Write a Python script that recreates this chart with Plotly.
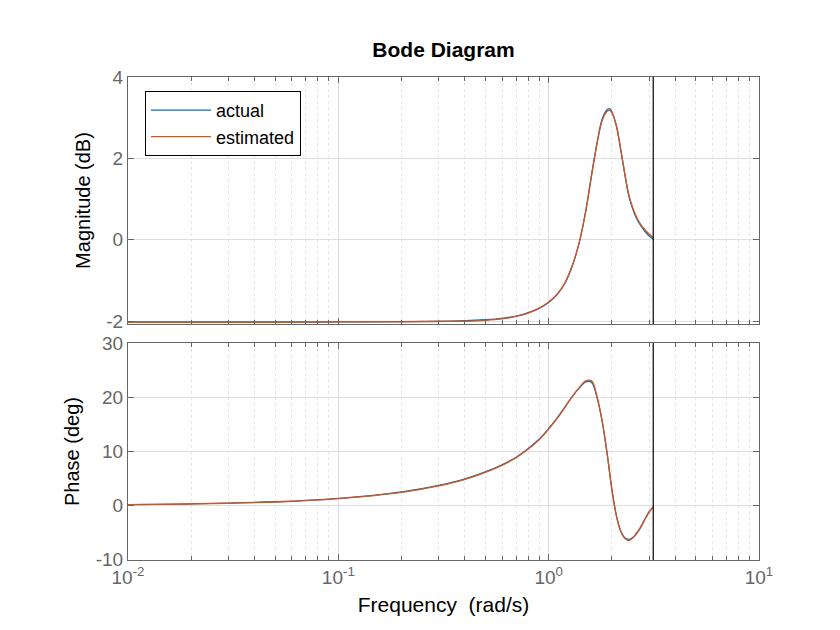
import numpy as np
import plotly.graph_objects as go
from plotly.subplots import make_subplots

# ---- data ----
freq = [0.01, 0.02, 0.05, 0.1, 0.2, 0.3, 0.4, 0.5, 0.6, 0.7, 0.8, 0.9, 1.0,
        1.1, 1.2, 1.3, 1.4, 1.5, 1.6, 1.7, 1.8, 1.9, 1.95, 2.0, 2.1, 2.2, 2.3,
        2.4, 2.5, 2.6, 2.7, 2.8, 2.9, 3.0, 3.1416]

mag_actual = [-2.02, -2.02, -2.02, -2.02, -2.01, -2.00, -1.99, -1.965, -1.93,
              -1.875, -1.79, -1.685, -1.54, -1.34, -1.05, -0.62, -0.05, 0.70,
              1.60, 2.40, 2.98, 3.20, 3.22, 3.14, 2.80, 2.22, 1.62, 1.10,
              0.78, 0.56, 0.40, 0.28, 0.18, 0.10, 0.01]
mag_estimated = [-2.03, -2.03, -2.03, -2.02, -2.02, -2.01, -2.00, -1.98, -1.945,
                 -1.885, -1.80, -1.685, -1.53, -1.33, -1.04, -0.61, -0.05, 0.69,
                 1.58, 2.37, 2.94, 3.16, 3.18, 3.12, 2.79, 2.22, 1.63, 1.12,
                 0.81, 0.59, 0.43, 0.31, 0.22, 0.14, 0.06]

ph_actual = [0.15, 0.28, 0.66, 1.3, 2.5, 3.7, 4.9, 6.2, 7.5, 8.9, 10.5, 12.2,
             14.2, 16.2, 18.3, 20.2, 21.7, 22.8, 22.7, 19.8, 15.3, 9.3, 6.0,
             2.8, -1.9, -4.7, -6.0, -6.3, -6.0, -5.3, -4.4, -3.3, -2.2, -1.2,
             -0.3]
ph_estimated = [0.12, 0.25, 0.62, 1.25, 2.4, 3.6, 4.8, 6.1, 7.4, 8.8, 10.4,
                12.1, 14.1, 16.1, 18.2, 20.2, 21.8, 23.0, 23.0, 20.0, 15.4,
                9.4, 6.0, 2.8, -2.0, -4.8, -6.1, -6.5, -6.1, -5.4, -4.5, -3.4,
                -2.3, -1.3, -0.3]

nyquist = np.pi
series_names = ["actual", "estimated"]
colors = ["#0072BD", "#D95319"]

# ---- figure ----
fig = make_subplots(rows=2, cols=1, shared_xaxes=True, vertical_spacing=0.04)

for name, col, m, p in zip(series_names, colors,
                           [mag_actual, mag_estimated],
                           [ph_actual, ph_estimated]):
    fig.add_trace(go.Scatter(x=freq, y=m, mode="lines", name=name,
                             line=dict(color=col, width=1.3, shape="spline",
                                       smoothing=1.0),
                             legendgroup=name), row=1, col=1)
    fig.add_trace(go.Scatter(x=freq, y=p, mode="lines", name=name,
                             line=dict(color=col, width=1.3, shape="spline",
                                       smoothing=1.0),
                             legendgroup=name, showlegend=False), row=2, col=1)

# Nyquist frequency lines
for xr, yref in [("x", "y domain"), ("x2", "y2 domain")]:
    fig.add_shape(type="line", xref=xr, yref=yref, x0=nyquist, x1=nyquist,
                  y0=0, y1=1, line=dict(color="black", width=1.2))

minor_vals = [m * 10.0 ** k for k in (-2, -1, 0) for m in range(2, 10)]
axcol = "#666666"
gridcol = "#dedede"

xcommon = dict(type="log", range=[-2, 1], showline=True, linecolor=axcol,
               linewidth=1, mirror="ticks", ticks="inside", ticklen=6,
               tickcolor=axcol, showgrid=True, gridcolor=gridcol,
               tickvals=[0.01, 0.1, 1, 10],
               ticktext=["10<sup>-2</sup>", "10<sup>-1</sup>",
                         "10<sup>0</sup>", "10<sup>1</sup>"],
               minor=dict(tickvals=minor_vals, ticks="inside", ticklen=4,
                          tickcolor=axcol, showgrid=True, gridcolor="#e4e4e4",
                          griddash="dot", gridwidth=1),
               zeroline=False)

fig.update_xaxes(**xcommon)
fig.update_xaxes(showticklabels=False, row=1, col=1)
fig.update_xaxes(tickfont=dict(size=19, color=axcol),
                 title=dict(text="Frequency\u00a0 (rad/s)",
                            font=dict(size=21, color="black"), standoff=10),
                 row=2, col=1)

ycommon = dict(showline=True, linecolor=axcol, linewidth=1, mirror="ticks",
               ticks="inside", ticklen=6, tickcolor=axcol, showgrid=True,
               gridcolor=gridcol, zeroline=False,
               tickfont=dict(size=19, color=axcol))
fig.update_yaxes(**ycommon)
fig.update_yaxes(range=[-2.07, 4], tickvals=[-2, 0, 2, 4],
                 ticktext=["-2", "0", "2", "4"],
                 domain=[0.4886, 1.0],
                 title=dict(text="Magnitude (dB)",
                            font=dict(size=20, color="black"), standoff=10),
                 row=1, col=1)
fig.update_yaxes(range=[-10.1, 30], tickvals=[-10, 0, 10, 20, 30],
                 ticktext=["-10", "0", "10", "20", "30"],
                 domain=[0.0, 0.4493],
                 title=dict(text="Phase (deg)",
                            font=dict(size=20, color="black"), standoff=10),
                 row=2, col=1)

fig.update_layout(
    width=840, height=630,
    margin=dict(l=120, r=89, t=69, b=78),
    paper_bgcolor="white", plot_bgcolor="white",
    font=dict(family="Liberation Sans, Arial, sans-serif", color="black"),
    title=dict(text="<b>Bode Diagram</b>", x=(120 + 751) / 2 / 840,
               xanchor="center", y=1 - 42 / 630, yanchor="middle",
               font=dict(size=21, color="black")),
    legend=dict(x=0.027, y=0.971, xanchor="left", yanchor="top",
                bgcolor="white", bordercolor="black", borderwidth=1,
                font=dict(size=18, color="black"), tracegroupgap=0,
                itemwidth=60),
    showlegend=True,
)

fig.write_html("out.html")
